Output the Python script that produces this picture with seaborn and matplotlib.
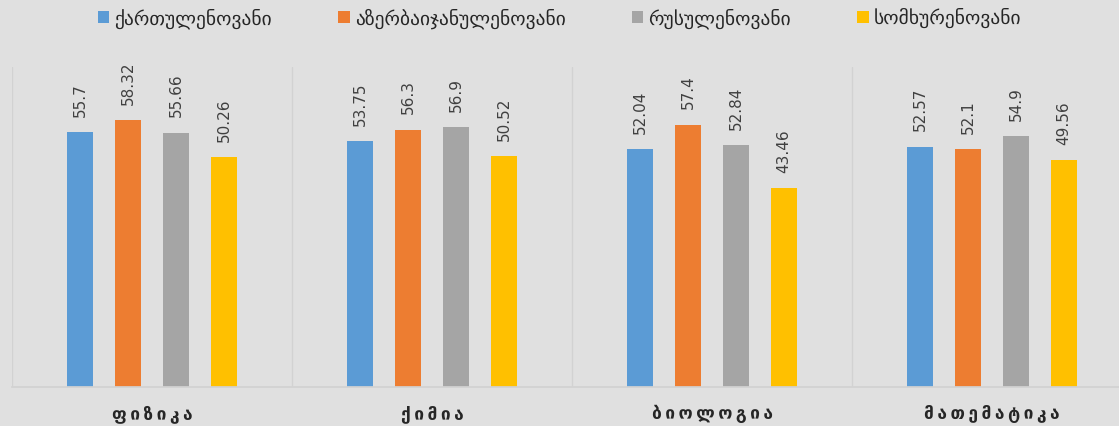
import numpy as np
import pandas as pd
import matplotlib
matplotlib.use("Agg")
import matplotlib.pyplot as plt
import seaborn as sns

sns.set_theme(style="white")
plt.rcParams['font.family'] = ['DejaVu Sans']

# Datos
materias = ['ფიზიკა', 'ქიმია', 'ბიოლოგია', 'მათემატიკა']
sectores = ['ქართულენოვანი', 'აზერბაიჯანულენოვანი', 'რუსულენოვანი', 'სომხურენოვანი']
georgiano = [55.7, 53.75, 52.04, 52.57]
azerbaiyano = [58.32, 56.3, 57.4, 52.1]
ruso = [55.66, 56.9, 52.84, 54.9]
armenio = [50.26, 50.52, 43.46, 49.56]

colores = ['#5B9BD5', '#ED7D31', '#A5A5A5', '#FFC000']
fondo = '#e0e0e0'

# Tabla en formato largo para seaborn
series = [georgiano, azerbaiyano, ruso, armenio]
df = pd.DataFrame({
    'materia': [m for s in series for m in materias],
    'sector': [sec for sec, s in zip(sectores, series) for _ in s],
    'valor': [v for s in series for v in s],
})

fig = plt.figure(figsize=(11.19, 4.26), dpi=100, facecolor=fondo)
ax = fig.add_axes([12 / 1119, 39 / 426, 1120 / 1119, 320 / 426])
ax.set_facecolor(fondo)

sns.barplot(data=df, x='materia', y='valor', hue='sector', order=materias,
            hue_order=sectores, palette=colores, saturation=1, width=0.686,
            gap=0.47, errorbar=None, linewidth=0, ax=ax, legend=True)

for cont in ax.containers:
    ax.bar_label(cont, fmt='{:g}', rotation=90, padding=11, fontsize=11,
                 color='#404040')

ax.set_xlim(-0.5, 3.5)
ax.set_ylim(0, 70)
ax.set_yticks([])
ax.set_xlabel('')
ax.set_ylabel('')

# Etiquetas de categoría con letras espaciadas
ax.set_xticks(range(len(materias)))
ax.set_xticklabels(['\u2009'.join(m) for m in materias], fontsize=12.5,
                   fontweight='bold', color='#262626')
ax.tick_params(axis='x', length=0, pad=13)

# Separadores verticales entre categorías
ax.set_xticks(np.arange(-0.5, 4), minor=True)
ax.tick_params(axis='x', which='minor', length=0)
ax.grid(which='minor', axis='x', color='#d2d2d2', linewidth=1)
ax.grid(which='major', visible=False)

for lado in ['top', 'right', 'left']:
    ax.spines[lado].set_visible(False)
ax.spines['bottom'].set_color('#d2d2d2')

handles, labels = ax.get_legend_handles_labels()
ax.get_legend().remove()
fig.legend(handles, labels, loc='center', bbox_to_anchor=(0.5, 0.957), ncol=4,
           frameon=False, fontsize=14, handlelength=0.6, handleheight=0.6,
           handletextpad=0.25, columnspacing=3.4, labelcolor='#262626')

fig.savefig('out.png', dpi=100, facecolor=fondo)
